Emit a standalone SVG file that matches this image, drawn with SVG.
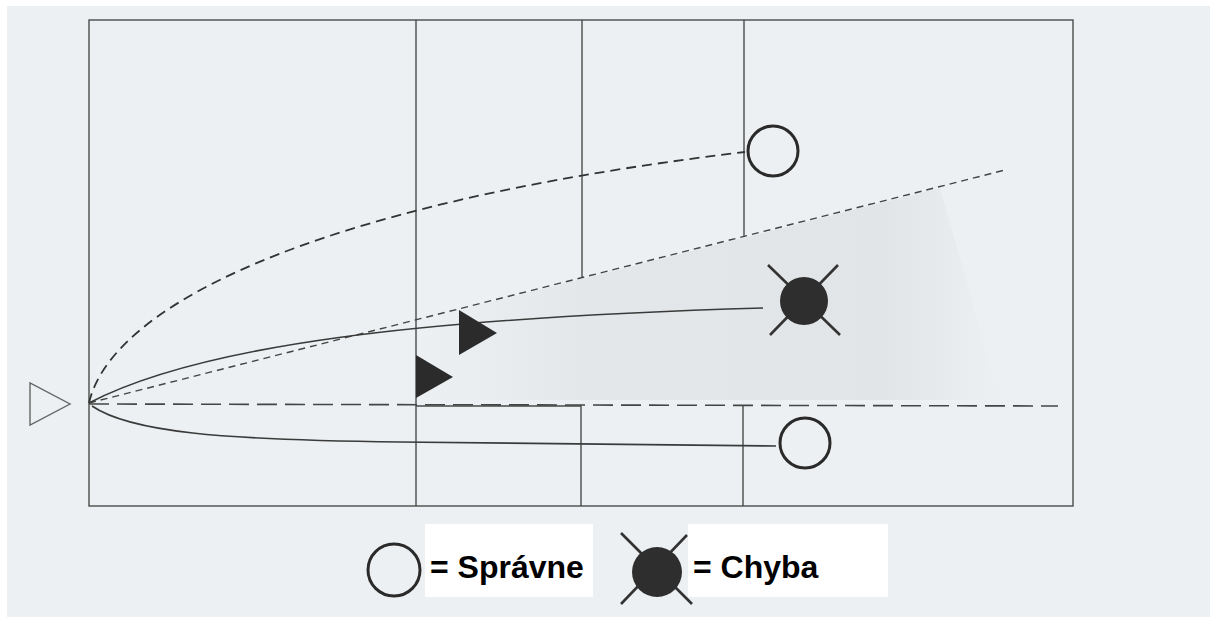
<svg xmlns="http://www.w3.org/2000/svg" width="1210" height="617" viewBox="0 0 1210 617">
<defs>
<style>
.grid{fill:none;stroke:#4a4a4a;stroke-width:1.4}
.solid{fill:none;stroke:#3a3a3a;stroke-width:1.6}
.dash1{fill:none;stroke:#333;stroke-width:1.8;stroke-dasharray:10 6}
.dash2{fill:none;stroke:#444;stroke-width:1.4;stroke-dasharray:7 5}
.dash3{fill:none;stroke:#444;stroke-width:1.6;stroke-dasharray:20 8}
.ok{fill:none;stroke:#2a2a2a;stroke-width:3}
.err{fill:#2e2e2e}
.xl{stroke:#333;stroke-width:2.6}
.tri{fill:#2b2b2b}
.lbl{font-family:"Liberation Sans",Arial,sans-serif;font-weight:bold;font-size:32px;fill:#000}
</style>
<linearGradient id="shade" x1="0" y1="0" x2="1" y2="0">
<stop offset="0" stop-color="#d9dcde" stop-opacity="0"/>
<stop offset="0.3" stop-color="#d9dcde" stop-opacity="0.45"/>
<stop offset="0.8" stop-color="#d9dcde" stop-opacity="0.55"/>
<stop offset="1" stop-color="#d9dcde" stop-opacity="0"/>
</linearGradient>
</defs>
<rect x="0" y="0" width="1210" height="617" fill="#ffffff"/>
<rect x="7" y="6" width="1203" height="611" fill="#edf0f2"/>
<polygon points="420,320 940,188 1000,400 420,400" fill="url(#shade)"/>

<g id="field">
<rect class="grid" x="89" y="20" width="984" height="486"/>
<line class="grid" x1="416" y1="20" x2="416" y2="506"/>
<line class="grid" x1="582" y1="20" x2="582" y2="278"/>
<line class="grid" x1="744" y1="20" x2="744" y2="237"/>
<polyline class="grid" points="416,406 581,406 581,506"/>
<line class="grid" x1="743" y1="406" x2="743" y2="506"/>
</g>

<g id="connectors">
<path class="dash1" d="M89,403 C110,310 300,205 745,152"/>
<line class="dash2" x1="89" y1="403" x2="1005" y2="170"/>
<line class="dash3" x1="89" y1="404" x2="1058" y2="406"/>
<path class="solid" d="M89,403 C200,345 420,318 763,308"/>
<path class="solid" d="M92,406 C130,432 220,440 400,442 L776,446"/>
</g>

<g id="start"><polygon points="30,383 30,425 70,404" fill="none" stroke="#666" stroke-width="1.4"/></g>
<g id="arrow1"><polygon class="tri" points="459,310 459,355 497,333"/></g>
<g id="arrow2"><polygon class="tri" points="416,355 416,398 453,377"/></g>

<g id="ok-top"><circle class="ok" cx="773" cy="151" r="25"/></g>
<g id="ok-bottom"><circle class="ok" cx="805" cy="443" r="25"/></g>
<g id="error">
<line class="xl" x1="768" y1="265" x2="840" y2="335"/>
<line class="xl" x1="838" y1="265" x2="770" y2="335"/>
<circle class="err" cx="804" cy="301" r="24"/>
</g>

<g id="legend-ok">
<circle class="ok" cx="394" cy="570" r="26"/>
<rect x="425" y="524" width="168" height="73" fill="#fff"/>
<text class="lbl" x="430" y="578">= Správne</text>
</g>
<g id="legend-error">
<line class="xl" x1="621" y1="533" x2="692" y2="604"/>
<line class="xl" x1="687" y1="535" x2="621" y2="604"/>
<circle class="err" cx="657" cy="572" r="25"/>
<rect x="688" y="524" width="200" height="73" fill="#fff"/>
<text class="lbl" x="693" y="578">= Chyba</text>
</g>
</svg>
